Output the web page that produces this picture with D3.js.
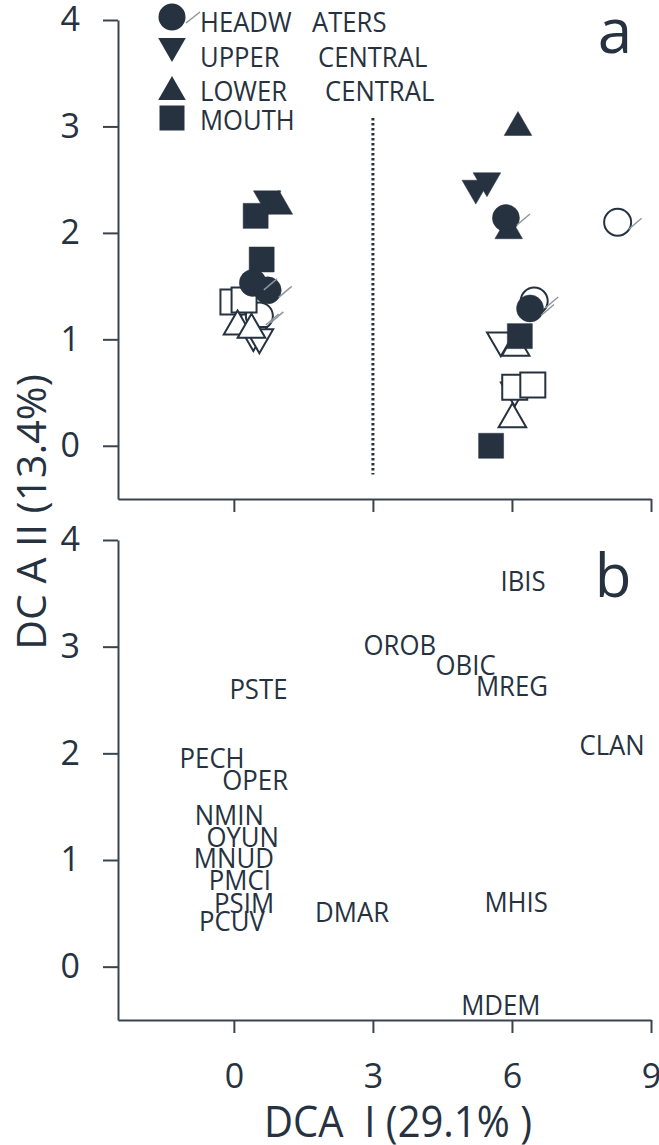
<!DOCTYPE html>
<html>
<head>
<meta charset="utf-8">
<script src="https://cdn.jsdelivr.net/npm/d3@7"></script>
<style>
  html, body { margin: 0; padding: 0; background: #fff; }
  svg { display: block; }
  text { font-family: "Open Sans", sans-serif; fill: #26323f; }
</style>
</head>
<body>
<svg id="chart" width="659" height="1145"></svg>
<script>
// ---------- DATA ----------
// Panel a: site scores (DCA I, DCA II), filled = one sampling, open = other
const headwatersFilled = [[0.41, 1.53], [0.73, 1.46], [5.87, 2.14], [6.39, 1.29]];
const headwatersOpen   = [[0.45, 1.20], [0.55, 1.22], [8.28, 2.10], [6.48, 1.36]];
const upperFilled      = [[0.72, 2.32], [5.22, 2.42], [5.46, 2.49]];
const upperOpen        = [[0.42, 1.04], [0.55, 1.02], [5.76, 0.99], [6.06, 0.52]];
const lowerFilled      = [[0.97, 2.25], [6.13, 2.99], [5.93, 2.02]];
const lowerOpen        = [[0.08, 1.12], [0.38, 1.09], [6.08, 0.92], [6.01, 0.25]];
const mouthFilled      = [[0.47, 2.16], [0.60, 1.75], [6.17, 1.03], [5.55, 0.00]];
const mouthOpen        = [[-0.02, 1.35], [0.22, 1.37], [6.06, 0.55], [6.45, 0.57]];

// Panel b: species scores
const speciesNames = ["IBIS","OROB","OBIC","MREG","PSTE","CLAN","PECH","OPER","NMIN","OYUN","MNUD","PMCI","PSIM","PCUV","DMAR","MHIS","MDEM"];
const speciesX     = [6.24, 3.58, 5.00, 6.00, 0.53, 8.16, -0.47, 0.46, -0.10, 0.19, 0.00, 0.13, 0.22, -0.04, 2.55, 6.09, 5.76];
const speciesY     = [3.62, 3.02, 2.83, 2.63, 2.60, 2.08, 1.96, 1.75, 1.42, 1.22, 1.02, 0.81, 0.60, 0.43, 0.51, 0.61, -0.36];

const legendLabels = [["HEADW", "ATERS"], ["UPPER", "CENTRAL"], ["LOWER", "CENTRAL"], ["MOUTH"]];
const xTicks = [0, 3, 6, 9];
const yTicks = [0, 1, 2, 3, 4];
const xTitle = "DCA  I (29.1% )";
const yTitle = "DC A II (13.4%)";

// ---------- LAYOUT ----------
const ink = "#26323f";
const axisInk = "#3a4450";
const svg = d3.select("#chart");

const x  = d3.scaleLinear().domain([-2.5, 9]).range([118, 651]);
const yA = d3.scaleLinear().domain([-0.5, 4]).range([499, 20]);
const yB = d3.scaleLinear().domain([-0.5, 4]).range([1020, 540]);

function styleAxis(g) {
  g.select(".domain").attr("stroke", axisInk).attr("stroke-width", 2);
  g.selectAll(".tick line").attr("stroke", axisInk).attr("stroke-width", 2);
  g.selectAll(".tick text").attr("font-size", 34).attr("fill", ink)
    .attr("font-family", '"Open Sans", sans-serif');
}
const fmt = d3.format("d");

// Panel a axes
svg.append("g").attr("transform", "translate(118,0)")
  .call(d3.axisLeft(yA).tickValues(yTicks).tickSize(15).tickSizeOuter(0).tickPadding(23).tickFormat(fmt))
  .call(styleAxis);
svg.append("g").attr("transform", "translate(0,499)")
  .call(d3.axisBottom(x).tickValues(xTicks).tickSize(13).tickSizeOuter(0).tickFormat(""))
  .call(styleAxis);

// Panel b axes
svg.append("g").attr("transform", "translate(118,0)")
  .call(d3.axisLeft(yB).tickValues(yTicks).tickSize(15).tickSizeOuter(0).tickPadding(23).tickFormat(fmt))
  .call(styleAxis);
svg.append("g").attr("transform", "translate(0,1020)")
  .call(d3.axisBottom(x).tickValues(xTicks).tickSize(13).tickSizeOuter(0).tickPadding(31).tickFormat(fmt))
  .call(styleAxis);

// Dotted divider in panel a
svg.append("line")
  .attr("x1", x(3)).attr("x2", x(3))
  .attr("y1", yA(3.08)).attr("y2", yA(-0.27))
  .attr("stroke", ink).attr("stroke-width", 3).attr("stroke-dasharray", "2.5,2.5");

// ---------- SYMBOLS ----------
const symCircle = d3.symbol().type(d3.symbolCircle).size(Math.PI * 13.5 * 13.5);
const symSquare = d3.symbol().type(d3.symbolSquare).size(25 * 25);
const symTri    = d3.symbol().type(d3.symbolTriangle).size(330);

function drawSet(data, kind, filled) {
  const g = svg.append("g");
  g.selectAll("path").data(data).enter().append("path")
    .attr("d", kind === "circle" ? symCircle() : kind === "square" ? symSquare() : symTri())
    .attr("transform", d => `translate(${x(d[0])},${yA(d[1])})` + (kind === "down" ? " rotate(180)" : ""))
    .attr("fill", filled ? ink : "#fff")
    .attr("stroke", ink)
    .attr("stroke-width", filled ? 0.5 : 2);
  if (kind === "circle") {
    g.selectAll("line").data(data).enter().append("line")
      .attr("x1", d => x(d[0]) + 11).attr("y1", d => yA(d[1]) + 7)
      .attr("x2", d => x(d[0]) + 24).attr("y2", d => yA(d[1]) - 4)
      .attr("stroke", "#8d969f").attr("stroke-width", 1.5);
  }
}

// open first, then filled on top
drawSet(headwatersOpen, "circle", false);
drawSet(upperOpen, "down", false);
drawSet(mouthOpen, "square", false);
drawSet(lowerOpen, "up", false);
drawSet(upperFilled, "down", true);
drawSet(lowerFilled, "up", true);
drawSet(mouthFilled, "square", true);
drawSet(headwatersFilled, "circle", true);

// ---------- LEGEND ----------
const legendRows = [
  { kind: "circle", cy: 17, base: 32, wordX: [0, 112] },
  { kind: "down",   cy: 46, base: 67, wordX: [0, 118] },
  { kind: "up",     cy: 92, base: 101, wordX: [0, 125] },
  { kind: "square", cy: 118, base: 130, wordX: [0] }
];
legendRows.forEach((r, i) => {
  svg.append("path")
    .attr("d", r.kind === "circle" ? symCircle() : r.kind === "square" ? symSquare() : symTri())
    .attr("transform", `translate(172,${r.cy})` + (r.kind === "down" ? " rotate(180)" : ""))
    .attr("fill", ink);
  if (r.kind === "circle") {
    svg.append("line").attr("x1", 186).attr("y1", 23).attr("x2", 200).attr("y2", 12)
      .attr("stroke", "#8d969f").attr("stroke-width", 1.5);
  }
  legendLabels[i].forEach((w, j) => {
    svg.append("text")
      .attr("transform", `translate(${200 + r.wordX[j]},${r.base}) scale(0.95,1)`)
      .attr("font-size", 27)
      .text(w);
  });
});

// ---------- SPECIES LABELS ----------
svg.append("g").selectAll("text").data(speciesNames).enter().append("text")
  .attr("transform", (d, i) => `translate(${x(speciesX[i])},${yB(speciesY[i])}) scale(0.92,1)`)
  .attr("text-anchor", "middle")
  .attr("dy", "0.36em")
  .attr("font-size", 28)
  .text(d => d);

// ---------- PANEL LETTERS ----------
svg.append("text").attr("x", 615).attr("y", 53).attr("text-anchor", "middle")
  .attr("font-size", 62).text("a");
svg.append("text").attr("x", 613).attr("y", 597).attr("text-anchor", "middle")
  .attr("font-size", 60).text("b");

// ---------- AXIS TITLES ----------
svg.append("text").attr("transform", "translate(398,1137) scale(0.93,1)")
  .attr("text-anchor", "middle")
  .attr("font-size", 43).attr("xml:space", "preserve").style("white-space", "pre").text(xTitle);
svg.append("text")
  .attr("transform", "translate(46,512) rotate(-90)")
  .attr("text-anchor", "middle")
  .attr("font-size", 41)
  .text(yTitle);
</script>
</body>
</html>
